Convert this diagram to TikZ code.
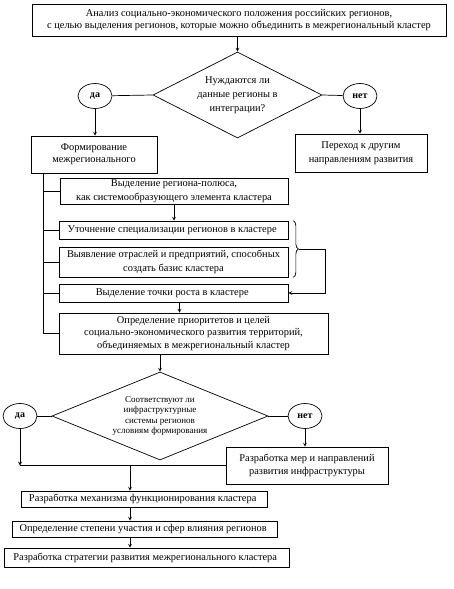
\documentclass[tikz,border=0pt]{standalone}
\usepackage{fontspec}
\setmainfont{Liberation Serif}
\usetikzlibrary{shapes.geometric,decorations.pathreplacing}

\begin{document}
\begin{tikzpicture}[x=1pt,y=-1pt,
            line width=0.7pt,
            box/.style={rectangle, draw, inner sep=1pt, align=center, font=\fontsize{10.4}{13.5}\selectfont},
            tight/.style={font=\fontsize{10.4}{12.2}\selectfont},
            question/.style={diamond, draw, inner sep=0pt, align=center, aspect=2},
            answer/.style={ellipse, draw, inner sep=0pt, minimum width=34pt, minimum height=25pt, font=\fontsize{10}{11}\selectfont\bfseries},
            arrow/.style={->,>=stealth},
            bracket/.style={decorate, decoration={brace, amplitude=5pt}}
        ]
            \useasboundingbox (0,0) rectangle (454,589);

            % Analysis of regions
            \node[box, tight, minimum width=414pt, minimum height=32pt] (analysis) at (239,20) {
                Анализ социально-экономического положения российских регионов,\\
                с целью выделения регионов, которые можно объединить в межрегиональный кластер
            };

            % First decision
            \node[question, minimum width=169pt, minimum height=86pt, font=\fontsize{10.4}{14}\selectfont] (need) at (237.5,95) {
                Нуждаются ли\\данные регионы в\\интеграции?
            };
            \node[answer] (yes1) at (95,96) {да};
            \node[answer] (no1) at (360,96) {нет};

            \node[box, tight, minimum width=126pt, minimum height=37pt] (form) at (94,154.5) {
                Формирование\\межрегионального
            };
            \node[box, minimum width=132pt, minimum height=38pt] (other) at (361,153) {
                Переход к другим\\направлениям развития
            };

            % Steps of forming
            \node[box, minimum width=228pt, minimum height=26pt] (pole) at (174,191) {
                Выделение региона-полюса,\\как системообразующего элемента кластера
            };
            \node[box, minimum width=229pt, minimum height=18pt] (spec) at (173.5,230) {
                Уточнение специализации регионов в кластере
            };
            \node[box, minimum width=229pt, minimum height=30pt] (indus) at (173.5,262) {
                Выявление отраслей и предприятий, способных\\создать базис кластера
            };
            \node[box, minimum width=229pt, minimum height=18pt] (growth) at (173.5,293) {
                Выделение точки роста в кластере
            };
            \node[box, tight, minimum width=269pt, minimum height=41pt] (prior) at (193.5,333.5) {
                Определение приоритетов и целей\\
                социально-экономического развития территорий,\\
                объединяемых в межрегиональный кластер
            };

            % Second decision
            \node[question, aspect=2.45, minimum width=216pt, minimum height=88pt, font=\fontsize{9}{10.5}\selectfont] (infra) at (160,416) {
                Соответствуют ли\\инфраструктурные\\системы регионов\\условиям формирования
            };
            \node[answer] (yes2) at (20,416) {да};
            \node[answer] (no2) at (305,416) {нет};

            \node[box, minimum width=162pt, minimum height=37pt] (measures) at (307,465.5) {
                Разработка мер и направлений\\развития инфраструктуры
            };

            % Final steps
            \node[box, minimum width=246pt, minimum height=16pt] (mech) at (144,499) {
                Разработка механизма функционирования кластера
            };
            \node[box, minimum width=265pt, minimum height=16pt] (share) at (144.5,529) {
                Определение степени участия и сфер влияния регионов
            };
            \node[box, minimum width=285pt, minimum height=19pt] (strategy) at (146.5,557.5) {
                Разработка стратегии развития межрегионального кластера
            };

            % Helper coordinates
            \coordinate (trunk) at (43,0);
            \coordinate (axis) at (130,0);
            \coordinate (btip) at (298.5,249.5);
            \coordinate (bturn) at (325,249.5);
            \coordinate (join) at (yes2.south |- measures.west);

            % Arrows of the upper part
            \draw[arrow] (analysis.south -| need.north) -- (need.north);
            \draw (yes1) -- (need.west);
            \draw (need.east) -- (no1);
            \draw[arrow] (yes1.south) -- (yes1.south |- form.north);
            \draw[arrow] (no1.south) -- (no1.south |- other.north);

            % Spine on the left
            \draw (trunk |- form.south) -- (trunk |- prior.west) -- (prior.west);
            \foreach \n in {pole,spec,indus,growth}
                \draw (trunk |- \n.west) -- (\n.west);
            \draw[arrow] (pole.south) -- (pole.south |- spec.north);
            \draw[bracket] ([xshift=5pt]spec.north east) -- ([xshift=5pt]indus.south east);
            \draw[arrow] (btip) -- (bturn) |- (growth.east);
            \draw[arrow] ([xshift=6pt]growth.south) -- ([xshift=6pt]growth.south |- prior.north);
            \draw[arrow] (infra.north |- prior.south) -- (infra.north);

            % Arrows of the lower part
            \draw (yes2) -- (infra.west);
            \draw (infra.east) -- (no2);
            \draw[arrow] (no2.south) -- (no2.south |- measures.north);
            \draw[arrow] (yes2.south) -- (join);
            \draw (join) -- (measures.west);
            \draw[arrow] (axis |- join) -- (axis |- mech.north);
            \draw[arrow] (axis |- mech.south) -- (axis |- share.north);
            \draw[arrow] (axis |- share.south) -- (axis |- strategy.north);
        \end{tikzpicture}
\end{document}
